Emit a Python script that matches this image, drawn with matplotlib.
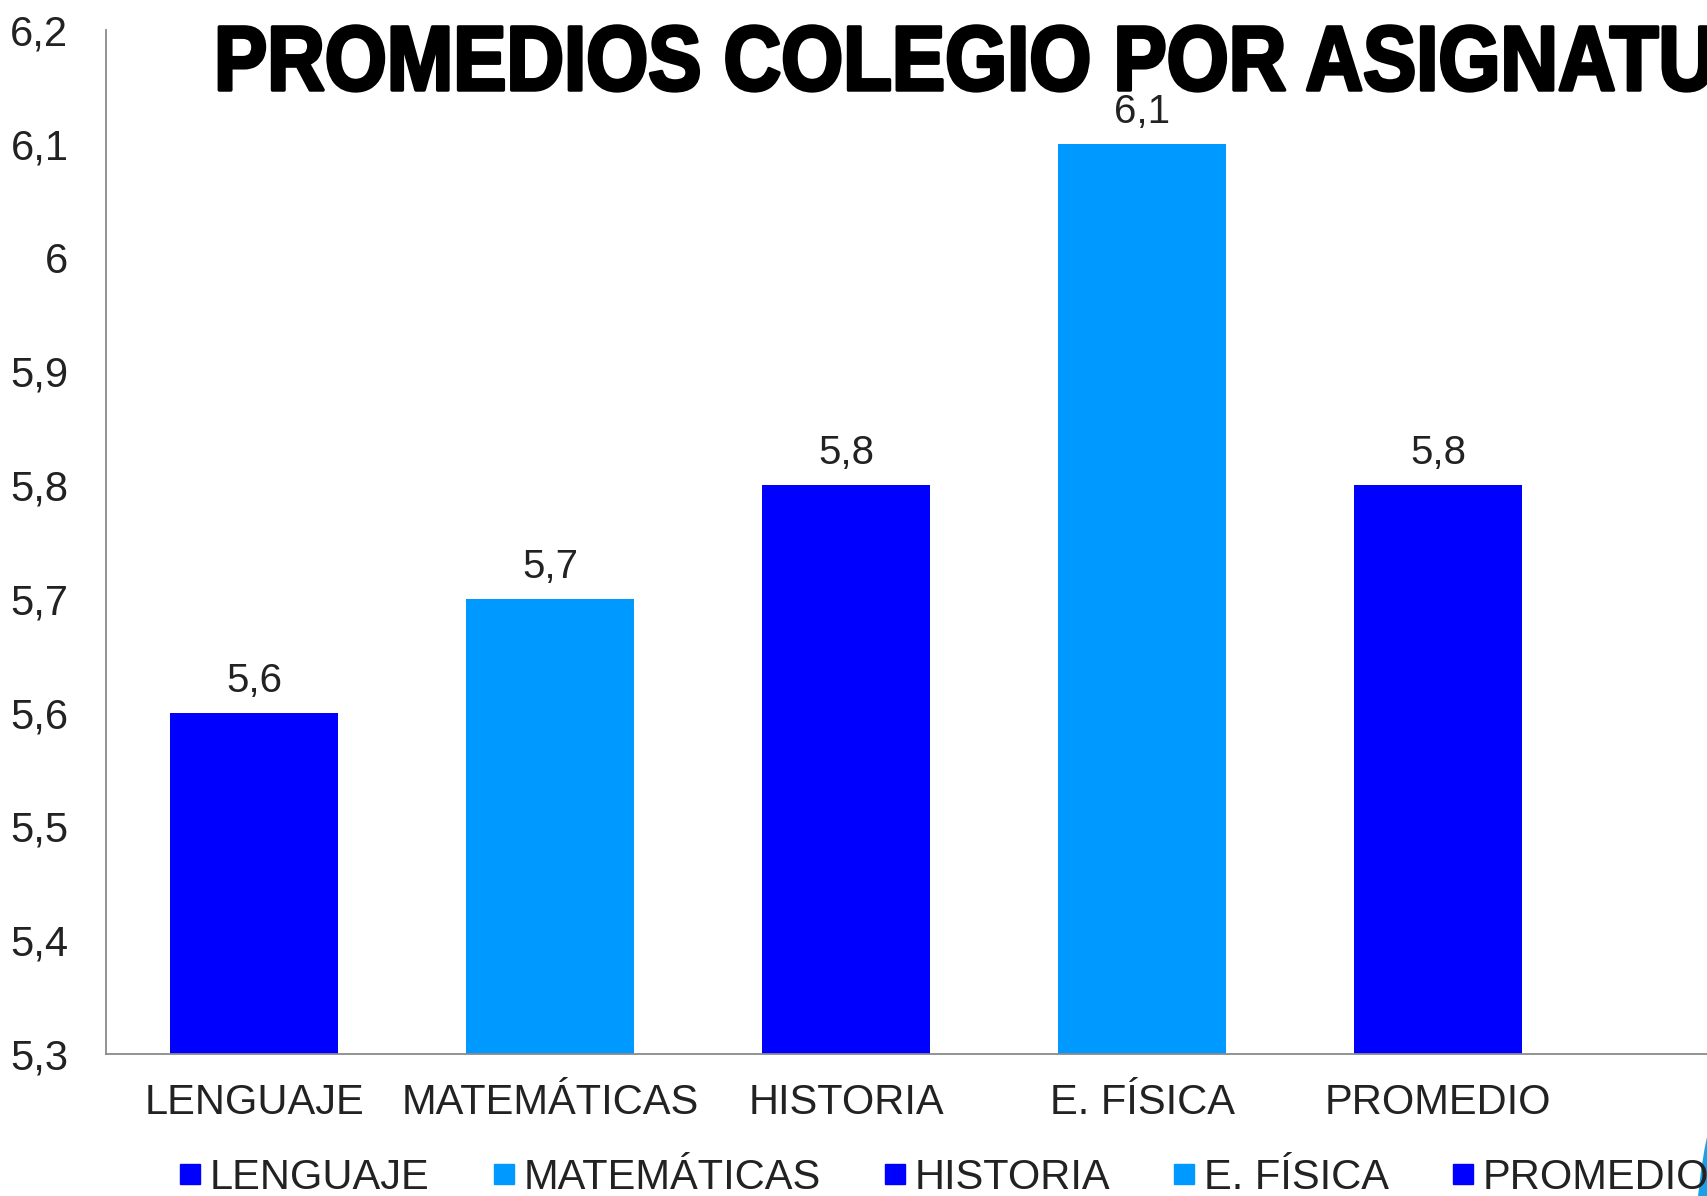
import matplotlib
matplotlib.use("Agg")
import matplotlib.pyplot as plt
from matplotlib.lines import Line2D
from matplotlib.patches import Ellipse
from matplotlib.patheffects import AbstractPathEffect
from matplotlib.transforms import Affine2D
from matplotlib.ticker import FuncFormatter

# datos
asignaturas = ["LENGUAJE", "MATEMÁTICAS", "HISTORIA", "E. FÍSICA", "PROMEDIO"]
promedios = [5.6, 5.7, 5.8, 6.1, 5.8]
colores = ["#0000FF", "#0099FF", "#0000FF", "#0099FF", "#0000FF"]
titulo = "PROMEDIOS COLEGIO POR ASIGNATURAS"


class Squeeze(AbstractPathEffect):
    """Estrecha el texto en x (la fuente del titulo original es condensada)."""

    def __init__(self, sx=0.8, stroke=0.0):
        super().__init__()
        self.sx = sx
        self.stroke = stroke

    def draw_path(self, renderer, gc, tpath, affine, rgbFace=None):
        x0 = affine.get_matrix()[0, 2]
        aff = affine + Affine2D().translate(-x0, 0).scale(self.sx, 1).translate(x0, 0)
        gc0 = renderer.new_gc()
        gc0.copy_properties(gc)
        if self.stroke:
            gc0.set_linewidth(self.stroke)
            gc0.set_foreground(rgbFace)
        renderer.draw_path(gc0, tpath, aff, rgbFace)
        gc0.restore()


W, H = 1707, 1196
fig = plt.figure(figsize=(W / 100, H / 100), dpi=100)
fig.patch.set_facecolor("white")

ax = fig.add_axes([106 / W, 1 - 1054 / H, 1 - 106 / W, (1054 - 30) / H])
x = range(len(asignaturas))
bars = ax.bar(x, promedios, width=0.567, color=colores, zorder=2)

ax.set_ylim(5.3, 6.2)
ax.set_xlim(-0.5, 4.908)
ax.set_yticks([5.3 + 0.1 * i for i in range(10)])
ax.yaxis.set_major_formatter(FuncFormatter(lambda v, p: f"{v:.1f}".rstrip("0").rstrip(".").replace(".", ",")))
ax.set_xticks(list(x))
ax.set_xticklabels(asignaturas)

fam = ["Liberation Sans", "DejaVu Sans"]
for t in ax.get_yticklabels() + ax.get_xticklabels():
    t.set_fontfamily(fam)
    t.set_fontsize(30)
ax.tick_params(axis="y", length=0, pad=27, colors="#222222")
ax.tick_params(axis="x", length=0, pad=21, colors="#222222")

for s in ["top", "right"]:
    ax.spines[s].set_visible(False)
for s in ["left", "bottom"]:
    ax.spines[s].set_color("#8a8a8a")
    ax.spines[s].set_linewidth(1.3)

# etiquetas de datos
for b, v in zip(bars, promedios):
    ax.annotate(f"{v:.1f}".replace(".", ","), (b.get_x() + b.get_width() / 2, v),
                xytext=(0, 15), textcoords="offset points", ha="center", va="baseline",
                fontsize=29, family=fam, color="#222222", zorder=3)

# titulo
fig.text(214 / W, 1 - 90 / H, titulo, ha="left", va="baseline", fontsize=66,
         fontweight="bold", family=fam, color="black", zorder=1,
         path_effects=[Squeeze(0.87, stroke=2.5)])

# leyenda
handles = [Line2D([], [], marker="s", linestyle="none", markersize=14,
                  markerfacecolor=c, markeredgecolor=c) for c in colores]
leg = fig.legend(handles, asignaturas, loc="center", bbox_to_anchor=(0.553, 1 - 1178 / H),
                 ncol=5, frameon=False, handlelength=0.55, handletextpad=0.2,
                 columnspacing=1.5, prop=dict(family=fam, size=30))
for t in leg.get_texts():
    t.set_color("#222222")

# forma decorativa abajo a la derecha
fig.add_artist(Ellipse((1795 / W, 1 - 1260 / H), 200 / W, 520 / H,
                       transform=fig.transFigure, facecolor="#1AA0E6", edgecolor="none"))

fig.savefig("out.png", dpi=100)
